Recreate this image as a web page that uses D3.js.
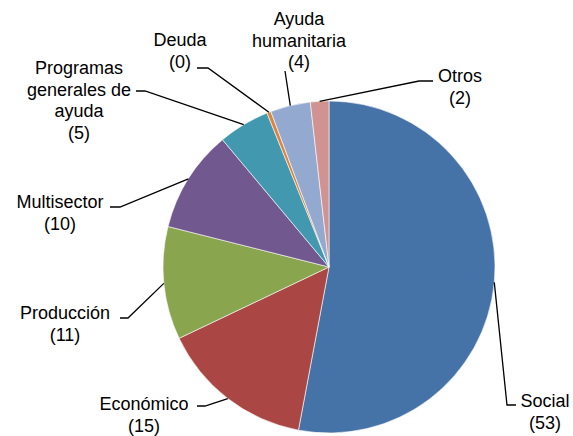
<!DOCTYPE html>
<html>
<head>
<meta charset="utf-8">
<script src="https://cdn.jsdelivr.net/npm/d3@7"></script>
<style>
	body { margin: 0; background: #fff; }
	text { font-family: "Liberation Sans", Arial, sans-serif; font-size: 18px; fill: #000; }
</style>
</head>
<body>
<svg class="chart"></svg>
<script>

let categories = ['Social', 'Económico', 'Producción', 'Multisector', 'Programas generales de ayuda', 'Deuda', 'Ayuda humanitaria', 'Otros'];
let values = [53, 15, 11, 10, 5, 0.4, 3.9, 1.8];
let colors = ['#4572A7', '#AA4643', '#89A54E', '#71588F', '#4198AF', '#DB843D', '#93A9CF', '#D19392'];

// label text lines, as Excel wrapped them
let labelLines = [
	['Social'],
	['Económico'],
	['Producción'],
	['Multisector'],
	['Programas', 'generales de', 'ayuda'],
	['Deuda'],
	['Ayuda', 'humanitaria'],
	['Otros']
];

// where each label block sits, and the elbow / stub of its leader line
let labelLayout = [
	{ tx: 545, ty: 407, ex: 507, ey: 405, sx: 516 },
	{ tx: 144, ty: 410, ex: 205, ey: 406, sx: 197 },
	{ tx: 65,  ty: 319, ex: 128, ey: 318, sx: 120 },
	{ tx: 60,  ty: 208, ex: 120, ey: 207, sx: 110 },
	{ tx: 79,  ty: 74,  ex: 145, ey: 91,  sx: 136 },
	{ tx: 180, ty: 46,  ex: 208, ey: 68,  sx: 197 },
	{ tx: 299, ty: 25,  ex: 285, ey: 71,  sx: 285 },
	{ tx: 460, ty: 82,  ex: 419, ey: 81,  sx: 433 }
];

let width = 573, height = 436;
let cx = 329, cy = 267, radius = 166;
let lineHeight = 21.5;

let data = categories.map(function(c, i) {
	return { name: c, value: values[i], color: colors[i], lines: labelLines[i], pos: labelLayout[i] };
});

let pie = d3.pie()
			.value(function(d) { return d.value; })
			.sort(null);

let arc = d3.arc()
			.innerRadius(0)
			.outerRadius(radius);

let edge = d3.arc()
			.innerRadius(radius)
			.outerRadius(radius);

let chart = d3.select('.chart')
			.attr('width', width)
			.attr('height', height);

let g = chart.append('g')
			.attr('transform', 'translate(' + cx + ',' + cy + ')');

let arcs = pie(data);

g.selectAll('path.slice')
		.data(arcs)
	.enter().append('path')
		.attr('class', 'slice')
		.attr('d', arc)
		.attr('fill', function(d) { return d.data.color; })
		.attr('stroke', '#fff')
		.attr('stroke-width', 0.6);

let fmt = d3.format('.0f');

// leader lines: point on the rim at the slice middle -> elbow -> short stub
chart.selectAll('path.leader')
		.data(arcs)
	.enter().append('path')
		.attr('class', 'leader')
		.attr('fill', 'none')
		.attr('stroke', '#000')
		.attr('stroke-width', 1.3)
		.attr('d', function(d) {
			let c = edge.centroid(d);
			let p = d.data.pos;
			return d3.line()([[cx + c[0], cy + c[1]], [p.ex, p.ey], [p.sx, p.ey]]);
		});

let labels = chart.selectAll('text.label')
		.data(arcs)
	.enter().append('text')
		.attr('class', 'label')
		.attr('text-anchor', 'middle')
		.attr('x', function(d) { return d.data.pos.tx; })
		.attr('y', function(d) { return d.data.pos.ty; });

labels.each(function(d) {
	let t = d3.select(this);
	let lines = d.data.lines.concat(['(' + fmt(d.data.value) + ')']);
	lines.forEach(function(l, i) {
		t.append('tspan')
			.attr('x', d.data.pos.tx)
			.attr('dy', i === 0 ? 0 : lineHeight)
			.text(l);
	});
});

</script>
</body>
</html>
